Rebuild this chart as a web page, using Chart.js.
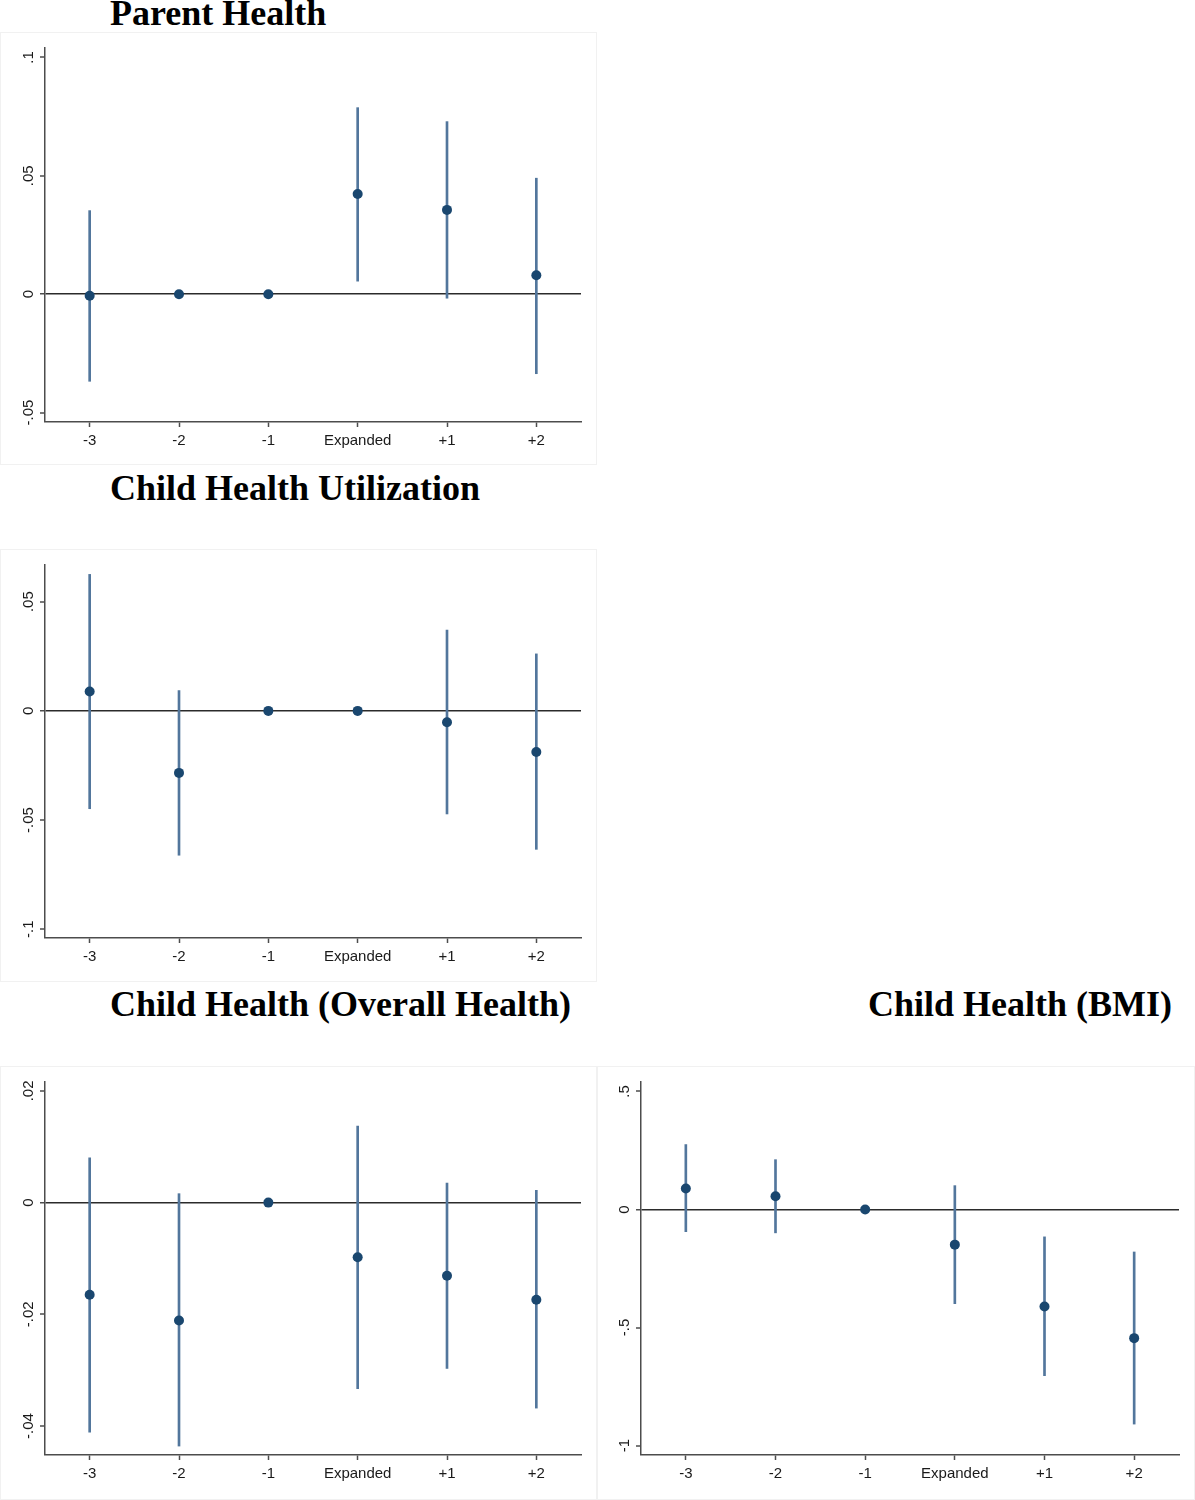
<!DOCTYPE html>
<html>
<head>
<meta charset="utf-8">
<script src="https://cdn.jsdelivr.net/npm/chart.js"></script>
<style>
  body { margin: 0; background: #fff; width: 1195px; height: 1500px; position: relative; overflow: hidden; }
  .title { position: absolute; font-family: "Liberation Serif", "Times New Roman", serif; font-weight: bold;
           font-size: 36px; line-height: 36px; color: #000; white-space: nowrap; }
  .frame { position: absolute; box-sizing: border-box; border: 1px solid #f1f1f1; }
  canvas { position: absolute; }
</style>
</head>
<body>
<div class="title" style="left:110px; top:-5px;">Parent Health</div>
<div class="title" style="left:110px; top:470px;">Child Health Utilization</div>
<div class="title" style="left:110px; top:986px;">Child Health (Overall Health)</div>
<div class="title" style="left:868px; top:986px;">Child Health (BMI)</div>

<div class="frame" style="left:0; top:32px; width:597px; height:433px;"></div>
<div class="frame" style="left:0; top:549px; width:597px; height:433px;"></div>
<div class="frame" style="left:0; top:1066px; width:597px; height:434px;"></div>
<div class="frame" style="left:597px; top:1066px; width:598px; height:434px;"></div>

<canvas id="parent" width="597" height="433" style="left:0; top:32px;"></canvas>
<canvas id="util" width="597" height="433" style="left:0; top:549px;"></canvas>
<canvas id="overall" width="597" height="434" style="left:0; top:1066px;"></canvas>
<canvas id="bmi" width="598" height="434" style="left:597px; top:1066px;"></canvas>

<script>
const categories = ['-3', '-2', '-1', 'Expanded', '+1', '+2'];

// Parent Health
const parentEst  = [-0.0007, 0, 0, 0.0423, 0.0356, 0.0080];
const parentLow  = [-0.0368, null, null, 0.0055, -0.0017, -0.0336];
const parentHigh = [0.0353, null, null, 0.0788, 0.0729, 0.0490];
const parentTicks = [-0.05, 0, 0.05, 0.1];
const parentTickLabels = ['-.05', '0', '.05', '.1'];
const parentRange = [-0.054, 0.104];

// Child Health Utilization
const utilEst  = [0.0089, -0.0284, 0, 0, -0.0052, -0.0188];
const utilLow  = [-0.0448, -0.0661, null, null, -0.0472, -0.0634];
const utilHigh = [0.0625, 0.0093, null, null, 0.0370, 0.0261];
const utilTicks = [-0.1, -0.05, 0, 0.05];
const utilTickLabels = ['-.1', '-.05', '0', '.05'];
const utilRange = [-0.104, 0.0668];

// Child Health (Overall Health)
const overallEst  = [-0.0165, -0.0211, 0, -0.0098, -0.0131, -0.0174];
const overallLow  = [-0.0411, -0.0436, null, -0.0333, -0.0297, -0.0368];
const overallHigh = [0.0080, 0.0016, null, 0.0137, 0.0035, 0.0022];
const overallTicks = [-0.04, -0.02, 0, 0.02];
const overallTickLabels = ['-.04', '-.02', '0', '.02'];
const overallRange = [-0.0452, 0.0216];

// Child Health (BMI)
const bmiEst  = [0.089, 0.056, 0, -0.149, -0.411, -0.545];
const bmiLow  = [-0.094, -0.099, null, -0.399, -0.704, -0.909];
const bmiHigh = [0.275, 0.211, null, 0.101, -0.116, -0.180];
const bmiTicks = [-1, -0.5, 0, 0.5];
const bmiTickLabels = ['-1', '-.5', '0', '.5'];
const bmiRange = [-1.04, 0.54];

const axisColor = '#4d4d4d';
const labelColor = '#1a1a1a';
const dotColor = '#1a476f';
const spikeColor = '#52769c';

// rotated y labels, placed with the y scale
const yLabels = {
  id: 'yLabels',
  afterDraw(chart, args, opts) {
    const s = chart.scales.y;
    const c = chart.ctx;
    c.save();
    c.font = '15px "Liberation Sans", Arial, sans-serif';
    c.fillStyle = labelColor;
    c.textAlign = 'center';
    c.textBaseline = 'alphabetic';
    opts.values.forEach((v, i) => {
      c.save();
      c.translate(chart.chartArea.left - 12, s.getPixelForValue(v));
      c.rotate(-Math.PI / 2);
      c.fillText(opts.labels[i], 0, 0);
      c.restore();
    });
    c.restore();
  }
};

function makeChart(id, est, low, high, ticks, tickLabels, range, axisW, axisH) {
  const spikes = low.map((l, i) => l === null ? null : [l, high[i]]);
  new Chart(document.getElementById(id), {
    type: 'bar',
    data: {
      labels: categories,
      datasets: [
        {
          type: 'line', data: est, showLine: false, order: 0,
          pointRadius: 5, pointHoverRadius: 5, pointBorderWidth: 0,
          pointBackgroundColor: dotColor, pointBorderColor: dotColor
        },
        {
          type: 'bar', data: spikes, order: 1,
          backgroundColor: spikeColor, barThickness: 2, borderWidth: 0
        }
      ]
    },
    options: {
      responsive: false,
      animation: false,
      events: [],
      layout: { padding: { top: 16, right: 16, left: 0, bottom: 0 } },
      plugins: {
        legend: { display: false },
        tooltip: { enabled: false },
        yLabels: { values: ticks, labels: tickLabels }
      },
      scales: {
        x: {
          offset: true,
          afterFit: s => { s.height = axisH; },
          grid: { offset: false, drawOnChartArea: false, drawTicks: true, tickLength: 5,
                  tickColor: axisColor, tickWidth: 1.5 },
          border: { display: true, color: axisColor, width: 1.5 },
          ticks: { font: { family: 'Liberation Sans', size: 15 }, color: labelColor, padding: 5,
                   maxRotation: 0, autoSkip: false }
        },
        y: {
          min: range[0],
          max: range[1],
          afterBuildTicks: s => { s.ticks = ticks.map(v => ({ value: v })); },
          afterFit: s => { s.width = axisW; },
          ticks: { display: false },
          grid: {
            drawTicks: true, tickLength: 5, tickColor: axisColor, tickWidth: 1.5,
            color: c => (c.tick && c.tick.value === 0) ? '#2b2b2b' : 'rgba(0,0,0,0)',
            lineWidth: c => (c.tick && c.tick.value === 0) ? 1.5 : 0
          },
          border: { display: true, color: axisColor, width: 1.5 }
        }
      }
    },
    plugins: [yLabels]
  });
}

makeChart('parent', parentEst, parentLow, parentHigh, parentTicks, parentTickLabels, parentRange, 45, 43);
makeChart('util', utilEst, utilLow, utilHigh, utilTicks, utilTickLabels, utilRange, 45, 44);
makeChart('overall', overallEst, overallLow, overallHigh, overallTicks, overallTickLabels, overallRange, 45, 45);
makeChart('bmi', bmiEst, bmiLow, bmiHigh, bmiTicks, bmiTickLabels, bmiRange, 44, 45);
</script>
</body>
</html>
